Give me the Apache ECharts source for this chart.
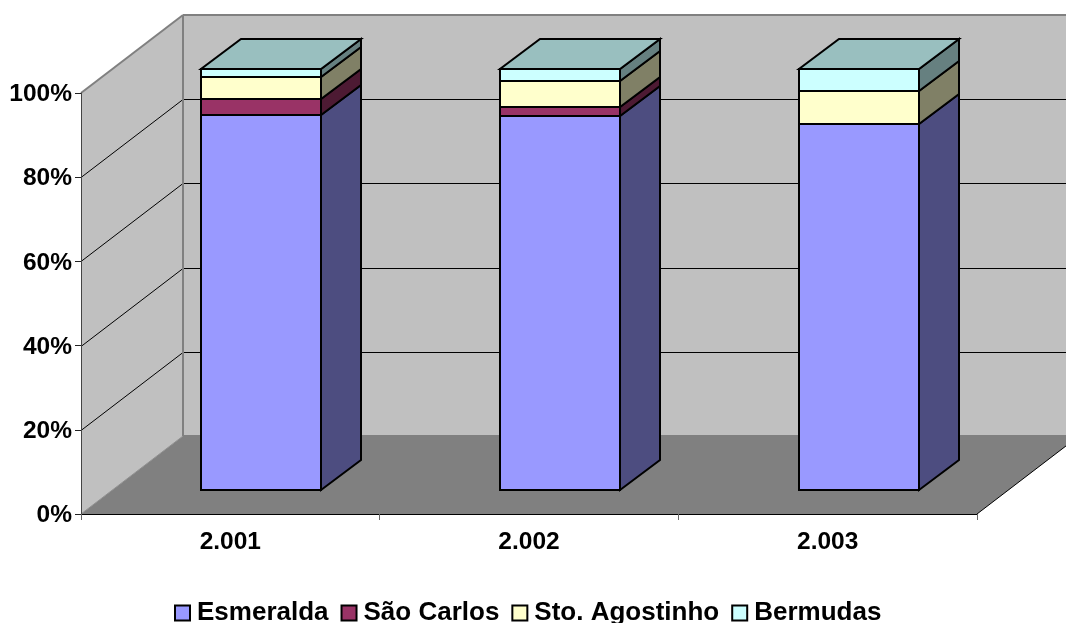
<!DOCTYPE html>
<html>
<head>
<meta charset="utf-8">
<title>Esmeralda</title>
<style>
  html, body { margin: 0; padding: 0; background: #fff; }
  #main { width: 1066px; height: 623px; }
</style>
<script src="https://cdn.jsdelivr.net/npm/echarts@6/dist/echarts.min.js"></script>
</head>
<body>
<div id="main"></div>
<script>
var categories = ['2.001', '2.002', '2.003'];
var esmeralda = [89.0, 88.9, 87.0];
var saoCarlos = [3.8, 2.0, 0];
var stoAgostinho = [5.2, 6.2, 7.7];
var bermudas = [2.0, 2.9, 5.3];
var valueTicks = [0, 20, 40, 60, 80, 100];

var seriesNames = ['Esmeralda', 'São Carlos', 'Sto. Agostinho', 'Bermudas'];
var seriesValues = [esmeralda, saoCarlos, stoAgostinho, bermudas];
var frontColors = ['#9999ff', '#993366', '#ffffcc', '#ccffff'];
var sideColors = ['#4d4d80', '#4d1a33', '#808066', '#668080'];
var topColor = '#99bfbf';

// depth of the fake 3d box, and where the bars stand inside it
var DEPTH_X = 102, DEPTH_Y = 78;
var BAR_SHIFT_X = 31, BAR_SHIFT_Y = 24;
var BAR_DEPTH_X = 40, BAR_DEPTH_Y = 30;
var BAR_WIDTH = 0.402;

function poly(points, fill, stroke, lineWidth) {
  return {
    type: 'polygon',
    shape: { points: points },
    style: { fill: fill, stroke: stroke || null, lineWidth: lineWidth || 0, lineJoin: 'miter' }
  };
}

function line(x1, y1, x2, y2, color, width) {
  return {
    type: 'line',
    shape: { x1: x1, y1: y1, x2: x2, y2: y2 },
    style: { stroke: color, lineWidth: width }
  };
}

function renderWalls(params, api) {
  var cs = params.coordSys;
  var l = cs.x, r = cs.x + cs.width, t = cs.y, b = cs.y + cs.height;
  var kids = [
    poly([[l, t], [l + DEPTH_X, t - DEPTH_Y], [l + DEPTH_X, b - DEPTH_Y], [l, b]], '#c0c0c0'),
    poly([[l + DEPTH_X, t - DEPTH_Y], [r + DEPTH_X, t - DEPTH_Y], [r + DEPTH_X, b - DEPTH_Y], [l + DEPTH_X, b - DEPTH_Y]], '#c0c0c0'),
    poly([[l, b], [r, b], [r + DEPTH_X, b - DEPTH_Y], [l + DEPTH_X, b - DEPTH_Y]], '#808080')
  ];
  valueTicks.forEach(function (v) {
    if (v === 0 || v === 100) return;
    var y = Math.round(api.coord([0, v])[1]) + 0.5;
    kids.push(line(l, y, l + DEPTH_X, y - DEPTH_Y, '#000', 1));
    kids.push(line(l + DEPTH_X, y - DEPTH_Y, r + DEPTH_X, y - DEPTH_Y, '#000', 1));
  });
  // gray edges of the walls
  kids.push(line(l, t, l + DEPTH_X, t - DEPTH_Y, '#808080', 2));
  kids.push(line(l + DEPTH_X, t - DEPTH_Y, r + DEPTH_X, t - DEPTH_Y, '#808080', 2));
  kids.push(line(l + DEPTH_X, t - DEPTH_Y, l + DEPTH_X, b - DEPTH_Y, '#808080', 2));
  kids.push(line(l + DEPTH_X, b - DEPTH_Y, r + DEPTH_X, b - DEPTH_Y, '#808080', 2));
  kids.push(line(l, b, l + DEPTH_X, b - DEPTH_Y, '#909090', 1));
  kids.push(line(r, b, r + DEPTH_X, b - DEPTH_Y, '#000', 1));
  return { type: 'group', children: kids };
}

function makeBarRenderer(k) {
  return function (params, api) {
    var bottom = api.coord([api.value(0), api.value(1)]);
    var top = api.coord([api.value(0), api.value(2)]);
    if (api.value(2) - api.value(1) <= 0) return null;
    var half = api.size([1, 0])[0] * BAR_WIDTH / 2;
    var x0 = Math.round(bottom[0] + BAR_SHIFT_X - half);
    var x1 = x0 + Math.round(half * 2);
    var y0 = Math.round(bottom[1] - BAR_SHIFT_Y);
    var y1 = Math.round(top[1] - BAR_SHIFT_Y);
    var kids = [
      poly([[x1, y0], [x1 + BAR_DEPTH_X, y0 - BAR_DEPTH_Y], [x1 + BAR_DEPTH_X, y1 - BAR_DEPTH_Y], [x1, y1]], sideColors[k], '#000', 2),
      poly([[x0, y0], [x1, y0], [x1, y1], [x0, y1]], frontColors[k], '#000', 2)
    ];
    if (k === seriesNames.length - 1) {
      kids.push(poly([[x0, y1], [x1, y1], [x1 + BAR_DEPTH_X, y1 - BAR_DEPTH_Y], [x0 + BAR_DEPTH_X, y1 - BAR_DEPTH_Y]], topColor, '#000', 2));
    }
    return { type: 'group', children: kids };
  };
}

// stack the series: each row is [category index, from, to]
var running = categories.map(function () { return 0; });
var barSeries = seriesNames.map(function (name, k) {
  var rows = seriesValues[k].map(function (v, i) {
    var row = [i, running[i], running[i] + v];
    running[i] += v;
    return row;
  });
  return {
    name: name,
    type: 'custom',
    z: 3 + k,
    renderItem: makeBarRenderer(k),
    encode: { x: 0, y: [1, 2] },
    itemStyle: { color: frontColors[k] },
    data: rows
  };
});

var font = '"Liberation Sans", Arial, sans-serif';

var myChart = echarts.init(document.getElementById('main'), null, { renderer: 'canvas' });
myChart.setOption({
  animation: false,
  backgroundColor: '#fff',
  grid: { left: 81, right: 89, top: 93, bottom: 109 },
  xAxis: {
    type: 'category',
    data: categories,
    z: 6,
    axisLine: { lineStyle: { color: '#000', width: 1 } },
    axisTick: { show: true, length: 6, lineStyle: { color: '#666', width: 1 } },
    axisLabel: { color: '#000', fontFamily: font, fontWeight: 'bold', fontSize: 24.5, margin: 16 }
  },
  yAxis: {
    type: 'value',
    min: 0,
    max: 100,
    interval: 20,
    z: 6,
    axisLine: { show: true, lineStyle: { color: '#444', width: 1 } },
    axisTick: { show: true, length: 6, lineStyle: { color: '#222', width: 1 } },
    splitLine: { show: false },
    axisLabel: {
      margin: 9,
      formatter: '{t|{value}%}',
      rich: { t: { color: '#000', fontFamily: font, fontWeight: 'bold', fontSize: 24.5, padding: [3, 0, 0, 0] } }
    }
  },
  legend: {
    data: seriesNames,
    left: 174,
    top: 600,
    padding: 0,
    icon: 'rect',
    itemWidth: 15,
    itemHeight: 15,
    itemGap: 12,
    itemStyle: { borderColor: '#000', borderWidth: 2 },
    textStyle: { color: '#000', fontFamily: font, fontWeight: 'bold', fontSize: 26, padding: [0, 0, 9, 2] }
  },
  series: [{
    name: 'walls',
    type: 'custom',
    z: 1,
    silent: true,
    renderItem: renderWalls,
    encode: { x: 0, y: 1 },
    data: [[0, 0]]
  }].concat(barSeries)
});
</script>
</body>
</html>
